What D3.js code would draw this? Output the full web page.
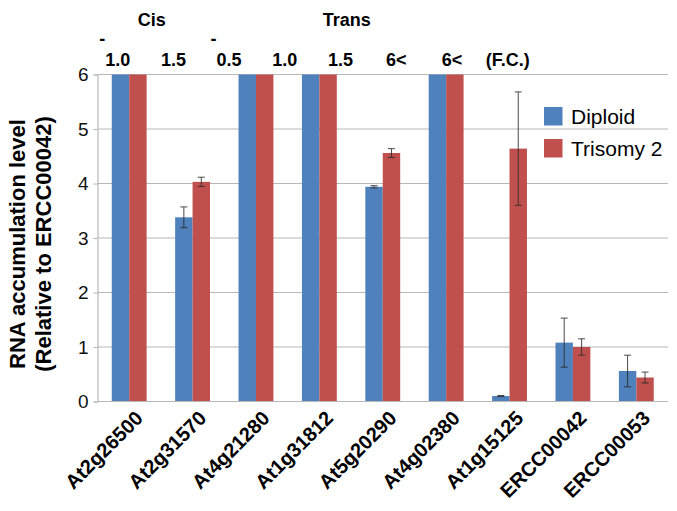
<!DOCTYPE html>
<html><head><meta charset="utf-8">
<script src="https://cdn.jsdelivr.net/npm/d3@7"></script>
<style>body{margin:0;background:#fff;} text{font-family:"Liberation Sans",Arial,sans-serif;}</style>
</head><body>
<svg id="chart" width="677" height="511"></svg>
<script>
const categories = ["At2g26500","At2g31570","At4g21280","At1g31812","At5g20290","At4g02380","At1g15125","ERCC00042","ERCC00053"];
const seriesNames = ["Diploid","Trisomy 2"];
// bars above 6 are truncated at the axis max in the original
const diploid = [6, 3.38, 6, 6, 3.94, 6, 0.10, 1.08, 0.56];
const trisomy = [6, 4.03, 6, 6, 4.56, 6, 4.64, 1.00, 0.44];
const diploidErr = [null, 0.19, null, null, 0.02, null, 0.01, 0.45, 0.29];
const trisomyErr = [null, 0.085, null, null, 0.08, null, 1.04, 0.15, 0.10];
const fcLabels = ["-1.0","1.5","-0.5","1.0","1.5","6<","6<","(F.C.)"];
const groupLabels = ["Cis","Trans"];
const yTicks = [0,1,2,3,4,5,6];
const colors = ["#4F81BD","#C0504D"];

const svg = d3.select("#chart");
const m = {left:97.5, right:668, top:74.5, bottom:401.5};
const x = d3.scaleBand().domain(categories).range([m.left, m.right]).paddingInner(0.45).paddingOuter(0.225);
const xs = d3.scaleBand().domain(seriesNames).range([0, x.bandwidth()]);
const y = d3.scaleLinear().domain([0,6]).range([m.bottom, m.top]);

// gridlines
svg.append("g").selectAll("line").data(yTicks.filter(d=>d>0)).join("line")
  .attr("x1", m.left).attr("x2", m.right).attr("y1", d=>y(d)).attr("y2", d=>y(d))
  .attr("stroke", "#b8b8b8").attr("stroke-width", 1.2);

// y axis
const yAxis = svg.append("g").attr("transform", `translate(${m.left},0)`)
  .call(d3.axisLeft(y).tickValues(yTicks).tickSize(4).tickPadding(5).tickFormat(d3.format("d")));
yAxis.select(".domain").attr("stroke","#b8b8b8").attr("stroke-width",1.2);
yAxis.selectAll(".tick line").attr("stroke","#b8b8b8");
yAxis.selectAll(".tick text").attr("font-size",19).attr("fill","#111").attr("font-family","Liberation Sans, Arial, sans-serif");

// bars
const data = categories.map((c,i)=>({c, vals:[
  {s:seriesNames[0], v:diploid[i], e:diploidErr[i]},
  {s:seriesNames[1], v:trisomy[i], e:trisomyErr[i]}]}));
const g = svg.append("g").selectAll("g").data(data).join("g").attr("transform", d=>`translate(${x(d.c)},0)`);
g.selectAll("rect").data(d=>d.vals).join("rect")
  .attr("x", d=>xs(d.s)).attr("width", xs.bandwidth())
  .attr("y", d=>y(Math.min(d.v,6))).attr("height", d=>y(0)-y(Math.min(d.v,6)))
  .attr("fill", (d,i)=>colors[i]);

// error bars
const eb = g.selectAll("g.err").data(d=>d.vals.filter(v=>v.e!=null)).join("g").attr("class","err")
  .attr("stroke","#2a2a2a").attr("stroke-width",1).attr("opacity",0.85);
eb.append("line").attr("x1",d=>xs(d.s)+xs.bandwidth()/2).attr("x2",d=>xs(d.s)+xs.bandwidth()/2)
  .attr("y1",d=>y(d.v+d.e)).attr("y2",d=>y(d.v-d.e));
eb.append("line").attr("x1",d=>xs(d.s)+xs.bandwidth()/2-3.5).attr("x2",d=>xs(d.s)+xs.bandwidth()/2+3.5)
  .attr("y1",d=>y(d.v+d.e)).attr("y2",d=>y(d.v+d.e));
eb.append("line").attr("x1",d=>xs(d.s)+xs.bandwidth()/2-3.5).attr("x2",d=>xs(d.s)+xs.bandwidth()/2+3.5)
  .attr("y1",d=>y(d.v-d.e)).attr("y2",d=>y(d.v-d.e));

// x axis line
svg.append("line").attr("x1",m.left).attr("x2",m.right).attr("y1",y(0)).attr("y2",y(0))
  .attr("stroke","#b8b8b8").attr("stroke-width",1.2);

// x labels
svg.append("g").selectAll("text").data(categories).join("text")
  .attr("transform", d=>`translate(${x(d)+x.bandwidth()/2+15},${m.bottom+18}) rotate(-45)`)
  .attr("text-anchor","end").attr("font-size",20).attr("font-weight","bold").attr("fill","#000")
  .text(d=>d);

// y title
const yt = svg.append("text").attr("transform","translate(25,244) rotate(-90)")
  .attr("text-anchor","middle").attr("font-size",22).attr("font-weight","bold");
yt.append("tspan").attr("x",0).attr("dy",0).text("RNA accumulation level");
yt.append("tspan").attr("x",0).attr("dy",26).text("(Relative to ERCC00042)");

// header F.C. labels
const fx = d3.scalePoint().domain(d3.range(fcLabels.length)).range([117.7, 507.7]);
fcLabels.forEach((lab,i)=>{
  const neg = lab.startsWith("-");
  const t = svg.append("text").attr("x",fx(i)).attr("y",66).attr("text-anchor","middle")
    .attr("font-size",18).attr("font-weight","bold").text(neg?lab.slice(1):lab);
  if(neg){
    const w = t.node().getComputedTextLength();
    svg.append("text").attr("x",fx(i)-w/2-6).attr("y",45).attr("font-size",18).attr("font-weight","bold").text("-");
  }
});
// group labels
const gx = [151.7, 346.7];
svg.append("g").selectAll("text").data(groupLabels).join("text")
  .attr("x",(d,i)=>gx[i]).attr("y",26).attr("text-anchor","middle")
  .attr("font-size",18).attr("font-weight","bold").text(d=>d);

// legend
const lg = svg.append("g").attr("transform","translate(544,107)");
seriesNames.forEach((s,i)=>{
  lg.append("rect").attr("x",0).attr("y",i*32).attr("width",18.5).attr("height",18.5).attr("fill",colors[i]);
  lg.append("text").attr("x",27).attr("y",i*32+17).attr("font-size",21).attr("fill","#000").text(s);
});
</script>
</body></html>
